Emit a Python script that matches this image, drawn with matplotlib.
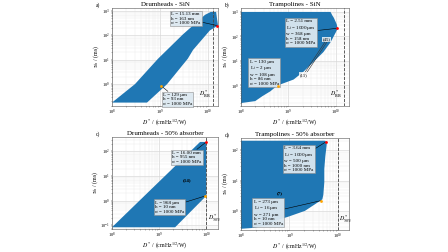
import numpy as np
import matplotlib
matplotlib.use('Agg')
import matplotlib.pyplot as plt

plt.rcParams['font.family'] = ['Liberation Serif', 'DejaVu Serif']
plt.rcParams['mathtext.fontset'] = 'stix'

titles = ['Drumheads - SiN', 'Trampolines - SiN',
          'Drumheads - 50% absorber', 'Trampolines - 50% absorber']
letters = ['a)', 'b)', 'c)', 'd)']
limit_labels = [r'$D^*_{\rm BB}$', r'$D^*_{\rm BB}$', r'$D^*_{50\%}$', r'$D^*_{50\%}$']

# outlines of the reachable regions (log10 D*, log10 tau)
a_logD = [8.0, 8.48, 8.96, 9.48, 9.94, 10.06, 10.17, 10.21, 10.04, 9.69, 9.58, 9.15, 8.73]
a_logT = [-0.76, 0.0, 1.04, 2.04, 2.84, 2.96, 2.96, 2.40, 2.20, 1.40, 1.04, 0.0, -0.76]

b_logD = [8.0, 8.0, 9.89, 9.93, 9.96, 10.02, 10.04, 10.0, 9.89, 9.74, 9.53, 9.32,
          9.11, 8.83, 8.77, 8.62, 8.45, 8.30]
b_logT = [-0.72, 3.0, 3.0, 2.85, 2.76, 2.5, 2.32, 2.16, 1.76, 1.36, 0.96, 0.56,
          0.24, 0.04, 0.0, -0.24, -0.44, -0.64]

c_logD = [8.0, 9.87, 10.0, 10.0, 9.34]
c_logT = [-1.08, 2.38, 2.38, 0.19, -1.08]

d_logD = [8.0, 8.0, 9.74, 9.77, 9.74, 9.72, 9.72, 9.70, 9.68, 9.53, 9.32, 8.98,
          8.68, 8.55, 8.26, 8.0]
d_logT = [-0.59, 2.31, 2.31, 2.19, 1.78, 1.38, 0.94, 0.53, 0.38, 0.22, 0.0, -0.19,
          -0.34, -0.47, -0.56, -0.59]

outlines = [(a_logD, a_logT), (b_logD, b_logT), (c_logD, c_logT), (d_logD, d_logT)]

# best (red) and fastest (orange) designs (log10 D*, log10 tau)
red_pts = [(10.19, 2.40), (10.02, 2.33), (10.0, 2.38), (9.76, 2.28)]
orange_pts = [(9.03, -0.08), (8.78, -0.02), (9.98, 0.19), (9.66, 0.34)]

red_txt = ['L = 15.13 mm\nh = 163 nm\n\u03c3 = 1000 MPa',
           'L = 2.51 mm\nL$_t$ = 1000 \u00b5m\nw = 368 \u00b5m\nh = 158 nm\n\u03c3 = 1000 MPa',
           'L = 16.00 mm\nh = 955 nm\n\u03c3 = 1000 MPa',
           'L = 3.64 mm\nL$_t$ = 1000 \u00b5m\nw = 500 \u00b5m\nh = 1000 nm\n\u03c3 = 1000 MPa']
orange_txt = ['L = 129 \u00b5m\nh = 93 nm\n\u03c3 = 1000 MPa',
              'L = 130 \u00b5m\nL$_t$ = 2 \u00b5m\nw = 108 \u00b5m\nh = 86 nm\n\u03c3 = 1000 MPa',
              'L = 968 \u00b5m\nh = 10 nm\n\u03c3 = 1000 MPa',
              'L = 273 \u00b5m\nL$_t$ = 16 \u00b5m\nw = 271 \u00b5m\nh = 10 nm\n\u03c3 = 1000 MPa']
# box anchor (top-left) positions (log10 D*, log10 tau)
red_box = [(9.23, 2.95), (8.96, 2.70), (9.28, 2.02), (8.89, 2.14)]
orange_box = [(9.06, -0.36), (8.18, 1.05), (8.91, 0.0), (8.26, 0.37)]

dlimit = [10.10, 10.17, 10.0, 10.0]
xlims = [(8.0, 10.21), (8.0, 10.28), (8.0, 10.25), (8.0, 10.23)]
ylims = [(-0.9, 3.12), (-0.84, 3.16), (-1.15, 2.58), (-0.63, 2.4)]

count_labels = [None, None, '(14)', '(7)']
count_pos = [None, None, (9.6, 0.85), (8.79, 0.6)]

# panel b: pair of tagged designs along the lower edge
b_tags = ['(45)', '(11)']
b_tag_logD = [9.81, 9.32]
b_tag_logT = [1.88, 0.44]

W, H = 448, 252
rects = [(112, 8, 218, 106), (241, 8, 349, 106), (112, 137, 218, 229), (241, 138, 349, 230)]

fig = plt.figure(figsize=(W / 100, H / 100), dpi=100)
blue = '#1f77b4'
for i in range(4):
    x0, y0, x1, y1 = rects[i]
    ax = fig.add_axes([x0 / W, 1 - y1 / H, (x1 - x0) / W, (y1 - y0) / H])
    ax.set_xscale('log')
    ax.set_yscale('log')
    lD, lT = outlines[i]
    ax.fill(10 ** np.array(lD), 10 ** np.array(lT), color=blue, lw=0, zorder=2)
    ax.set_xlim(10 ** xlims[i][0], 10 ** xlims[i][1])
    ax.set_ylim(10 ** ylims[i][0], 10 ** ylims[i][1])
    ax.grid(which='major', color='#d0d0d0', lw=0.4, zorder=0)
    ax.grid(which='minor', color='#e8e8e8', lw=0.3, zorder=0)
    ax.set_axisbelow(True)
    ax.axvline(10 ** dlimit[i], color='#444444', ls='--', lw=0.6, zorder=3)
    yl = 10 ** (ylims[i][0] + 0.12 * (ylims[i][1] - ylims[i][0]))
    if i < 2:
        ax.text(10 ** (dlimit[i] - 0.04), yl, limit_labels[i], fontsize=4.2,
                ha='right', va='center', zorder=4)
    else:
        ax.text(10 ** (dlimit[i] + 0.03), yl, limit_labels[i], fontsize=4.2,
                ha='left', va='center', zorder=4)
    rx, ry = red_pts[i]
    ox, oy = orange_pts[i]
    ax.scatter([10 ** rx], [10 ** ry], s=4, color='red', zorder=6, clip_on=False, lw=0)
    ax.scatter([10 ** ox], [10 ** oy], s=4, color='orange', zorder=6, clip_on=False, lw=0)
    bb = dict(boxstyle='square,pad=0.25', fc='#dce8f0', ec='#888888', lw=0.4, alpha=0.95)
    for (px, py), (bx, by), txt in [((rx, ry), red_box[i], red_txt[i]),
                                     ((ox, oy), orange_box[i], orange_txt[i])]:
        ax.annotate(txt, xy=(10 ** px, 10 ** py), xytext=(10 ** bx, 10 ** by),
                    fontsize=3.6, ha='left', va='top', bbox=bb, linespacing=1.15,
                    arrowprops=dict(arrowstyle='-', color='black', lw=0.4,
                                    shrinkA=0, shrinkB=0), zorder=5)
    if count_labels[i]:
        cx, cy = count_pos[i]
        ax.text(10 ** cx, 10 ** cy, count_labels[i], fontsize=3.6, ha='center',
                va='center', zorder=4, fontweight='bold')
    if i == 1:
        tx = 10 ** np.array(b_tag_logD)
        ty = 10 ** np.array(b_tag_logT)
        ax.plot(tx, ty, color='#333333', lw=0.4, zorder=4)
        ax.plot(tx * 1.06, ty * 0.9, color='#333333', lw=0.4, zorder=4)
        for t, xx, yy in zip(b_tags, tx, ty):
            ax.text(xx, yy, t, fontsize=3.4, ha='center', va='center', zorder=5,
                    bbox=dict(boxstyle='square,pad=0.1', fc='white', ec='none', alpha=0.8))
    ax.set_title(titles[i], fontsize=5.0, pad=1.2)
    ax.set_xlabel(r'$D^*$ / (cmHz$^{1/2}$/W)', fontsize=4.2, labelpad=0.2)
    ax.set_ylabel(r'$\tau_{th}$ / (ms)', fontsize=4.2, labelpad=0.5)
    ax.tick_params(which='both', labelsize=3.2, length=1.0, width=0.3, pad=0.5)
    ax.tick_params(which='minor', length=0.6)
    for s in ax.spines.values():
        s.set_linewidth(0.4)
        s.set_color('#555555')
    fig.text((x0 - 16) / W, 1 - (y0 - 6) / H, letters[i], fontsize=4, ha='left', va='top')

fig.savefig('out.png', dpi=100)
